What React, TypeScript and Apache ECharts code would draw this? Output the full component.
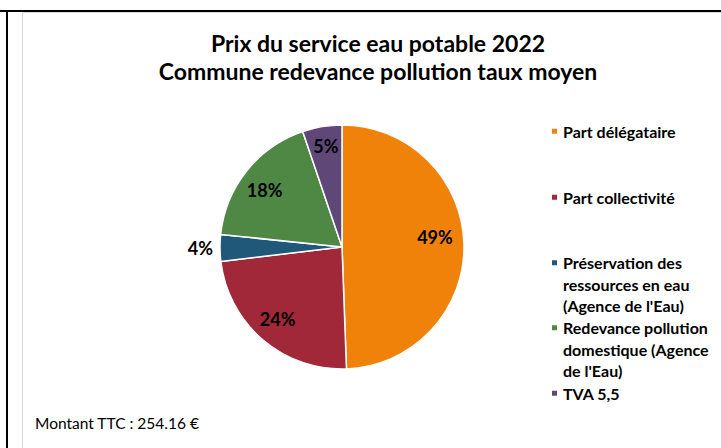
import React, { useEffect, useRef } from "react";
import * as echarts from "echarts";

const titleLines = ["Prix du service eau potable 2022", "Commune redevance pollution taux moyen"];
const categories = [
  "Part délégataire",
  "Part collectivité",
  "Préservation des ressources en eau (Agence de l'Eau)",
  "Redevance pollution domestique (Agence de l'Eau)",
  "TVA 5,5",
];
const values = [125.6, 60.2, 9.0, 46.1, 13.26];
const colors = ["#F0820A", "#A02838", "#1F5878", "#4F8744", "#5F4878"];
const legendLines: string[][] = [
  ["Part délégataire"],
  ["Part collectivité"],
  ["Préservation des", "ressources en eau", "(Agence de l'Eau)"],
  ["Redevance pollution", "domestique (Agence", "de l'Eau)"],
  ["TVA 5,5"],
];
const footnote = "Montant TTC : 254.16 €";

const FONT = "Lato, 'Open Sans', sans-serif";

export default function App() {
  const ref = useRef<HTMLDivElement>(null);
  useEffect(() => {
    if (!ref.current) return;
    const chart = echarts.init(ref.current, null, { renderer: "svg" });
    const legendTops = [120.5, 186.5, 209, 274, 382.5];
    const legends = categories.map((name, i) => ({
      data: [name],
      left: 550,
      top: legendTops[i],
      padding: 0,
      orient: "vertical",
      itemWidth: 7,
      itemHeight: 7,
      icon: "rect",
      selectedMode: false,
      formatter: () => {
        const lines = legendLines[i];
        return lines.length > 1 ? "\n\n" + lines.join("\n") : lines.join("\n");
      },
      textStyle: {
        fontFamily: FONT,
        fontSize: 16,
        fontWeight: "bold",
        color: "#000",
        lineHeight: 21.5,
      },
    }));
    const data = categories.map((name, i) => ({
      name,
      value: values[i],
      itemStyle: { color: colors[i] },
    }));
    const labelOffsets = [[-6, -8], [0, -3], [0, 0], [0, 5], [0, -3]];
    const labelData = categories.map((name, i) => ({
      name: name + " ",
      value: values[i],
      itemStyle: { color: "rgba(0,0,0,0)", borderWidth: 0 },
      label:
        i === 2
          ? { position: "outside" }
          : { position: "inside", offset: labelOffsets[i] },
      labelLine: { show: false, length: 2, length2: 0 },
    }));
    chart.setOption({
      animation: false,
      backgroundColor: "#fff",
      title: [
        {
          text: titleLines.join("\n"),
          left: 378,
          top: 29,
          padding: 0,
          textAlign: "center",
          textStyle: {
            fontFamily: FONT,
            fontSize: 23,
            fontWeight: "bold",
            color: "#000",
            lineHeight: 28,
          },
        },
        {
          text: footnote,
          left: 35,
          top: 415,
          padding: 0,
          textStyle: {
            fontFamily: FONT,
            fontSize: 15.5,
            fontWeight: "normal",
            color: "#000",
          },
        },
      ],
      legend: legends,
      graphic: [
        { type: "rect", shape: { x: 22.5, y: 12.5, width: 720, height: 460 }, style: { fill: "none", stroke: "#D9D9D9", lineWidth: 1 }, silent: true },
        { type: "rect", shape: { x: 0, y: 10, width: 721, height: 2 }, style: { fill: "#000" }, silent: true },
        { type: "rect", shape: { x: 6, y: 10, width: 2, height: 440 }, style: { fill: "#000" }, silent: true },
      ],
      series: [
        {
          type: "pie",
          center: [342, 247],
          radius: [0, 122],
          startAngle: 90,
          clockwise: true,
          label: { show: false },
          labelLine: { show: false },
          itemStyle: { borderColor: "#fff", borderWidth: 1.5 },
          emphasis: { disabled: true },
          data,
        },
        {
          type: "pie",
          center: [342, 247],
          radius: [70, 122],
          startAngle: 90,
          clockwise: true,
          silent: true,
          percentPrecision: 0,
          label: {
            show: true,
            formatter: "{d}%",
            fontFamily: FONT,
            fontSize: 18,
            fontWeight: "bold",
            color: "#000",
          },
          emphasis: { disabled: true },
          data: labelData,
        },
      ],
    });
    return () => chart.dispose();
  }, []);
  return (
    <div
      ref={ref}
      style={{ position: "absolute", left: 0, top: 0, width: 721, height: 448 }}
    />
  );
}
